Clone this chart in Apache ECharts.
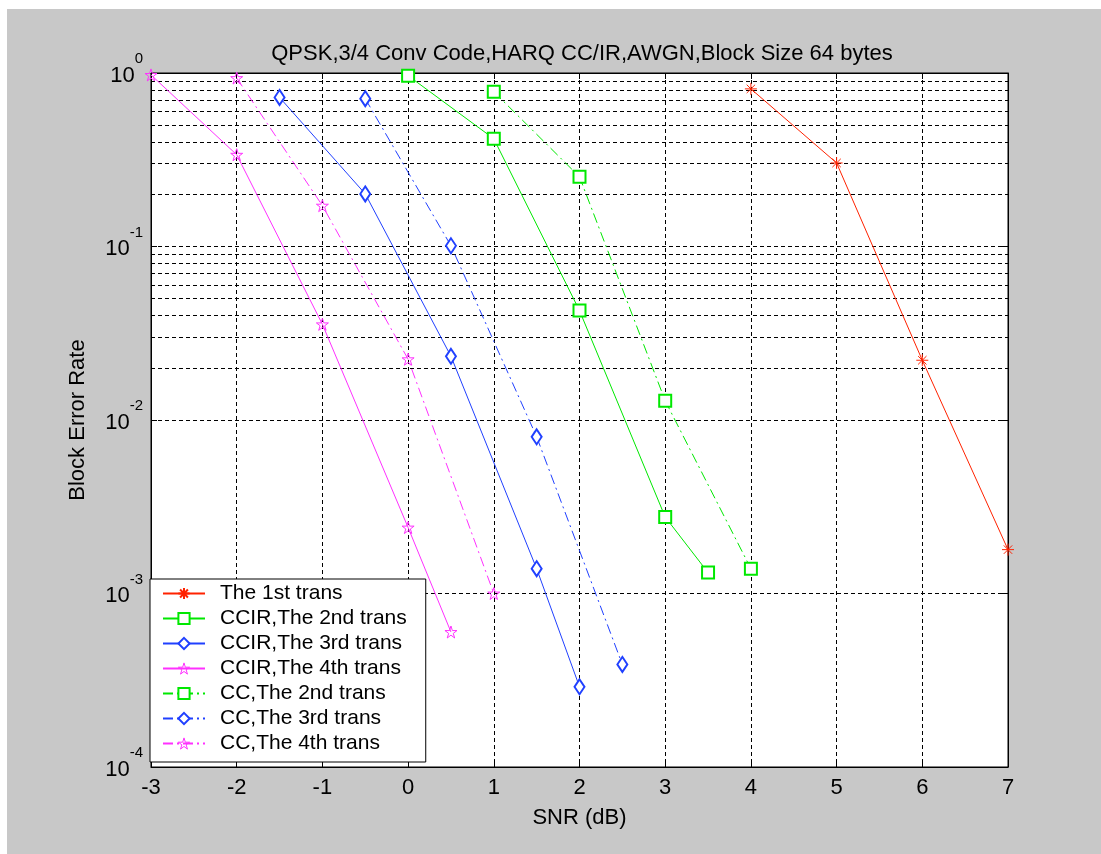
<!DOCTYPE html>
<html>
<head>
<meta charset="utf-8">
<script src="https://cdn.jsdelivr.net/npm/echarts@6/dist/echarts.min.js"></script>
<style>
html,body{margin:0;padding:0;background:#ffffff;}
#chart{position:absolute;left:7px;top:9px;width:1094px;height:845px;}
</style>
</head>
<body>
<div id="chart"></div>
<script>
// ---- data ----
const seriesNames = [
  'The 1st trans',
  'CCIR,The 2nd trans',
  'CCIR,The 3rd trans',
  'CCIR,The 4th trans',
  'CC,The 2nd trans',
  'CC,The 3rd trans',
  'CC,The 4th trans'
];
const snr1st    = [4, 5, 6, 7];
const bler1st   = [0.81, 0.303, 0.0221, 0.00179];
const snrIR2    = [0, 1, 2, 3, 3.5];
const blerIR2   = [0.965, 0.418, 0.0427, 0.00276, 0.00132];
const snrIR3    = [-1.5, -0.5, 0.5, 1.5, 2];
const blerIR3   = [0.723, 0.201, 0.0233, 0.00139, 0.00029];
const snrIR4    = [-3, -2, -1, 0, 0.5];
const blerIR4   = [0.975, 0.338, 0.0356, 0.0024, 0.0006];
const snrCC2    = [1, 2, 3, 4];
const blerCC2   = [0.78, 0.252, 0.0129, 0.00139];
const snrCC3    = [-0.5, 0.5, 1.5, 2.5];
const blerCC3   = [0.711, 0.101, 0.008, 0.00039];
const snrCC4    = [-2, -1, 0, 1];
const blerCC4   = [0.935, 0.172, 0.0224, 0.001];
const xTicks = [-3, -2, -1, 0, 1, 2, 3, 4, 5, 6, 7];
const yDecades = [1e-4, 1e-3, 1e-2, 1e-1, 1];

// minor grid positions (2..9 x 10^k) for the log axis
const minorGrid = [];
for (let k = -4; k <= -1; k++) {
  for (let m = 2; m <= 9; m++) minorGrid.push(+(m * Math.pow(10, k)).toPrecision(3));
}

const pairs = (xs, ys) => xs.map((x, i) => [x, ys[i]]);

const RED = '#ff2200', GREEN = '#00e800', BLUE = '#2040ff', MAG = '#ff30ff';
const STAR = 'path://M0,-1L0.2245,-0.309L0.951,-0.309L0.363,0.118L0.588,0.809L0,0.382L-0.588,0.809L-0.363,0.118L-0.951,-0.309L-0.2245,-0.309Z';
const AST = 'path://M0,-1L0,1M-1,0L1,0M-0.7,-0.7L0.7,0.7M-0.7,0.7L0.7,-0.7';
const DASHDOT = [10, 4, 2, 4];
const FONT = 'Arial, "Liberation Sans", sans-serif';

function mk(name, xs, ys, color, symbol, size, dash, outlineOnly) {
  return {
    name: name,
    type: 'line',
    data: pairs(xs, ys),
    symbol: symbol,
    symbolSize: size,
    z: 5,
    lineStyle: { color: color, width: 1, type: dash ? DASHDOT : 'solid' },
    itemStyle: outlineOnly
      ? { color: 'rgba(255,255,255,0)', borderColor: color, borderWidth: 1 }
      : { color: color, borderColor: color, borderWidth: 1 },
    emphasis: { disabled: true },
    animation: false
  };
}

const series = [
  {
    name: '_grid', type: 'line', data: [], z: 1, silent: true, animation: false,
    markLine: {
      silent: true, symbol: ['none', 'none'], animation: false,
      label: { show: false },
      lineStyle: { color: '#000', width: 1, type: [4, 3] },
      emphasis: { disabled: true },
      data: minorGrid.map(v => ({ yAxis: v }))
    }
  },
  mk(seriesNames[0], snr1st, bler1st, RED, AST, 12, false, true),
  mk(seriesNames[1], snrIR2, blerIR2, GREEN, 'emptyRect', 12, false, false),
  mk(seriesNames[2], snrIR3, blerIR3, BLUE, 'emptyDiamond', [10, 15], false, false),
  mk(seriesNames[3], snrIR4, blerIR4, MAG, STAR, 12, false, true),
  mk(seriesNames[4], snrCC2, blerCC2, GREEN, 'emptyRect', 12, true, false),
  mk(seriesNames[5], snrCC3, blerCC3, BLUE, 'emptyDiamond', [10, 15], true, false),
  mk(seriesNames[6], snrCC4, blerCC4, MAG, STAR, 12, true, true)
];

const outlineLegend = { color: 'rgba(255,255,255,0)', borderColor: MAG, borderWidth: 1 };
const legendData = seriesNames.map((n, i) =>
  (i === 3 || i === 6) ? { name: n, itemStyle: outlineLegend } : { name: n });

const chart = echarts.init(document.getElementById('chart'), null, { renderer: 'canvas' });
chart.setOption({
  backgroundColor: '#c8c8c8',
  animation: false,
  title: {
    text: 'QPSK,3/4 Conv Code,HARQ CC/IR,AWGN,Block Size 64 bytes',
    left: 570, top: 29, textAlign: 'center',
    textStyle: { color: '#000', fontSize: 22, fontWeight: 'normal', fontFamily: FONT }
  },
  grid: {
    left: 144, right: 93, top: 64, bottom: 87,
    show: true, backgroundColor: '#ffffff', borderColor: '#000', borderWidth: 1
  },
  legend: {
    data: legendData,
    orient: 'vertical',
    left: 143, top: 570,
    backgroundColor: '#ffffff', borderColor: '#000', borderWidth: 1,
    padding: [4, 19, 8, 12],
    itemWidth: 42, itemHeight: 14, itemGap: 4,
    align: 'left',
    textStyle: { color: '#000', fontSize: 21, fontFamily: FONT, padding: [0, 0, 0, 10] },
    selectedMode: false
  },
  xAxis: [{
    type: 'value', min: -3, max: 7, interval: 1,
    name: 'SNR (dB)', nameLocation: 'middle', nameGap: 40,
    nameTextStyle: { color: '#000', fontSize: 22, fontFamily: FONT },
    axisLine: { show: true, onZero: false, lineStyle: { color: '#000', width: 1 } },
    axisTick: { show: true, inside: true, length: 6, lineStyle: { color: '#000' } },
    axisLabel: { color: '#000', fontSize: 22, fontFamily: FONT, margin: 10,
                 formatter: v => String(v) },
    splitLine: { show: true, lineStyle: { color: '#000', width: 1, type: [4, 3] } }
  }, {
    type: 'value', min: -3, max: 7, interval: 1, position: 'top',
    axisLine: { show: true, onZero: false, lineStyle: { color: '#000' } },
    axisTick: { show: true, inside: true, length: 6, lineStyle: { color: '#000' } },
    axisLabel: { show: false }, splitLine: { show: false }
  }],
  yAxis: [{
    type: 'log', logBase: 10, min: 1e-4, max: 1,
    name: 'Block Error Rate', nameLocation: 'middle', nameGap: 62,
    nameTextStyle: { color: '#000', fontSize: 22, fontFamily: FONT },
    axisLine: { show: true, onZero: false, lineStyle: { color: '#000', width: 1 } },
    axisTick: { show: true, inside: true, length: 6, lineStyle: { color: '#000' } },
    axisLabel: {
      margin: 8,
      padding: [0, 0, 8, 0],
      formatter: v => '{b|10}{s|' + Math.round(Math.log10(v)) + '}',
      rich: {
        b: { fontSize: 22, fontFamily: FONT, color: '#000', padding: [13, 0, 0, 0] },
        s: { fontSize: 15, fontFamily: FONT, color: '#000', verticalAlign: 'top' }
      }
    },
    splitLine: { show: true, lineStyle: { color: '#000', width: 1, type: [4, 3] } }
  }, {
    type: 'log', logBase: 10, min: 1e-4, max: 1, position: 'right',
    axisLine: { show: true, onZero: false, lineStyle: { color: '#000' } },
    axisTick: { show: true, inside: true, length: 6, lineStyle: { color: '#000' } },
    axisLabel: { show: false }, splitLine: { show: false }
  }],
  series: series
});
</script>
</body>
</html>
